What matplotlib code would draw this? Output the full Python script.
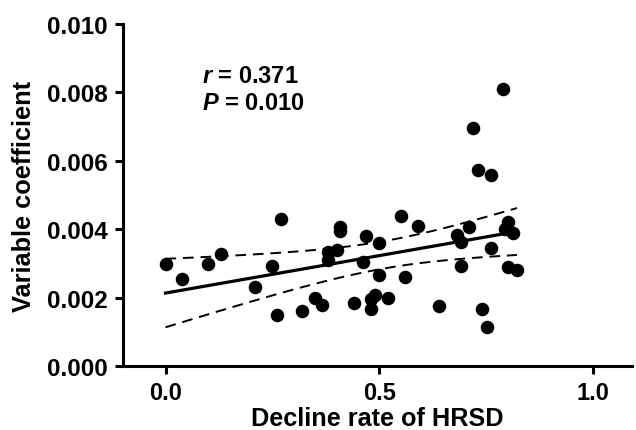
import numpy as np
import matplotlib
matplotlib.use('Agg')
import matplotlib.pyplot as plt

plt.rcParams['font.family'] = ['Liberation Sans', 'DejaVu Sans']
plt.rcParams['font.weight'] = 'bold'
plt.rcParams['mathtext.fontset'] = 'custom'
plt.rcParams['mathtext.it'] = 'Liberation Sans:italic:bold'
plt.rcParams['mathtext.rm'] = 'Liberation Sans:bold'

# decline rate of HRSD vs variable coefficient
decline_rate = [0.000, 0.039, 0.099, 0.130, 0.210, 0.249, 0.270, 0.261, 0.319, 0.350,
                0.367, 0.381, 0.381, 0.401, 0.409, 0.409, 0.440, 0.461, 0.470, 0.481,
                0.481, 0.490, 0.500, 0.500, 0.521, 0.551, 0.561, 0.590, 0.640, 0.681,
                0.691, 0.710, 0.691, 0.720, 0.731, 0.761, 0.761, 0.790, 0.802, 0.795,
                0.812, 0.801, 0.822, 0.741, 0.751]
var_coef = [0.00298, 0.00254, 0.00298, 0.00327, 0.00232, 0.00291, 0.00430, 0.00150, 0.00161, 0.00199,
            0.00178, 0.00334, 0.00311, 0.00340, 0.00406, 0.00396, 0.00184, 0.00304, 0.00381, 0.00167,
            0.00196, 0.00207, 0.00361, 0.00266, 0.00198, 0.00439, 0.00261, 0.00410, 0.00176, 0.00383,
            0.00363, 0.00405, 0.00292, 0.00695, 0.00573, 0.00558, 0.00344, 0.00810, 0.00421, 0.00400,
            0.00388, 0.00290, 0.00281, 0.00167, 0.00113]

x_ticks = [0.0, 0.5, 1.0]
y_ticks = [0.000, 0.002, 0.004, 0.006, 0.008, 0.010]

x = np.array(decline_rate)
y = np.array(var_coef)

# linear fit with 95% confidence band
slope, intercept = np.polyfit(x, y, 1)
n = len(x)
resid = y - (slope * x + intercept)
s = np.sqrt(np.sum(resid ** 2) / (n - 2))
xs = np.linspace(x.min(), x.max(), 100)
fit = slope * xs + intercept
se = s * np.sqrt(1 / n + (xs - x.mean()) ** 2 / np.sum((x - x.mean()) ** 2))
t = 2.014
upper = fit + t * se
lower = fit - t * se

fig = plt.figure(figsize=(6.36, 4.31), dpi=100)
ax = fig.add_axes([0.193, 0.1485, 0.8, 0.7935])

ax.scatter(x, y, s=95, color='black', zorder=3, linewidths=0)
ax.plot(xs, fit, color='black', lw=2.3)
ax.plot(xs, upper, color='black', lw=1.4, ls=(0, (5.5, 3.5)))
ax.plot(xs, lower, color='black', lw=1.4, ls=(0, (5.5, 3.5)))

ax.set_xlim(-0.1, 1.09)
ax.set_ylim(0, 0.010)
ax.set_xticks(x_ticks)
ax.set_xticklabels(['%.1f' % v for v in x_ticks])
ax.set_yticks(y_ticks)
ax.set_yticklabels(['%.3f' % v for v in y_ticks])

for side in ['top', 'right']:
    ax.spines[side].set_visible(False)
for side in ['left', 'bottom']:
    ax.spines[side].set_linewidth(2.2)
ax.tick_params(width=2.2, length=6, pad=5)
ax.tick_params(axis='y', labelsize=17.5)
ax.tick_params(axis='x', labelsize=17)

ax.set_xlabel('Decline rate of HRSD', fontsize=18.2, fontweight='bold', labelpad=1)
ax.set_ylabel('Variable coefficient', fontsize=18.3, fontweight='bold', labelpad=8)

ax.text(0.086, 0.0085, '$r$ = 0.371', fontsize=17, fontweight='bold', va='center')
ax.text(0.086, 0.0077, '$P$ = 0.010', fontsize=17, fontweight='bold', va='center')

plt.savefig('out.png', dpi=100)
